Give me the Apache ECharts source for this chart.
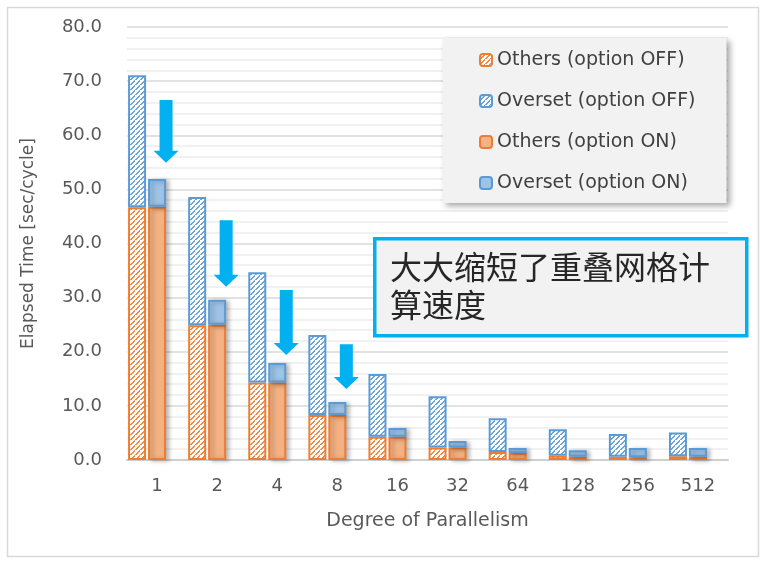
<!DOCTYPE html>
<html>
<head>
<meta charset="utf-8">
<script src="https://cdn.jsdelivr.net/npm/echarts@6/dist/echarts.min.js"></script>
<style>
	html, body { margin: 0; padding: 0; background: #fff; }
	#chart { width: 771px; height: 568px; }
</style>
</head>
<body>
<div id="chart"></div>
<script>
// degree of parallelism
var categories = ['1', '2', '4', '8', '16', '32', '64', '128', '256', '512'];
// elapsed time [sec/cycle], option OFF
var othersOff = [46.7, 24.9, 14.3, 8.3, 4.3, 2.3, 1.5, 0.8, 0.6, 0.7];
var oversetOff = [24.4, 23.7, 20.4, 14.8, 11.6, 9.5, 6.2, 4.9, 4.2, 4.4];
// option ON
var othersOn = [46.8, 25.0, 14.3, 8.3, 4.3, 2.3, 1.3, 0.6, 0.5, 0.6];
var oversetOn = [5.1, 4.6, 3.6, 2.4, 1.6, 1.2, 0.9, 1.2, 1.7, 1.6];
// arrows: [category index, start value, tip value]
var arrowData = [[0, 66.5, 54.9], [1, 44.3, 32.0], [2, 31.4, 19.4], [3, 21.4, 13.1]];
var legendNames = ['Others (option OFF)', 'Overset (option OFF)', 'Others (option ON)', 'Overset (option ON)'];
var noteText = '大大缩短了重叠网格计\n算速度';

var FONT = 'DejaVu Sans';

// white tile with a thin "/" stripe
function hatch(color) {
	var n = 5;
	var c = document.createElement('canvas');
	c.width = n;
	c.height = n;
	var ctx = c.getContext('2d');
	ctx.fillStyle = '#ffffff';
	ctx.fillRect(0, 0, n, n);
	ctx.fillStyle = color;
	for (var i = 0; i < n; i++) {
		ctx.fillRect(i, n - 1 - i, 1, 1);
		if (i < n - 1) ctx.fillRect(i + 1, n - 1 - i, 1, 1);
	}
	return { image: c, repeat: 'repeat' };
}

function barSeries(name, stack, data, fill, border, shadow) {
	var style = {
		color: fill,
		borderColor: border,
		borderWidth: 2
	};
	if (shadow) {
		style.shadowColor = 'rgba(0,0,0,0.25)';
		style.shadowBlur = 4;
		style.shadowOffsetX = 3;
		style.shadowOffsetY = 1;
	}
	return {
		name: name,
		type: 'bar',
		stack: stack,
		data: data,
		barWidth: 18,
		barGap: '11%',
		itemStyle: style,
		emphasis: { disabled: true }
	};
}

var myChart = echarts.init(document.getElementById('chart'));

var option = {
	backgroundColor: '#ffffff',
	animation: false,
	grid: {
		left: 127,
		right: 43,
		top: 27,
		bottom: 108
	},
	legend: {
		data: legendNames,
		orient: 'vertical',
		left: 443,
		top: 38,
		itemWidth: 12,
		itemHeight: 12,
		itemGap: 19,
		padding: [11, 31, 9, 36],
		backgroundColor: '#F2F2F2',
		shadowColor: 'rgba(0,0,0,0.35)',
		shadowBlur: 6,
		shadowOffsetX: 3,
		shadowOffsetY: 3,
		selectedMode: false,
		textStyle: {
			fontFamily: FONT,
			fontSize: 19,
			color: '#404040',
			lineHeight: 22
		}
	},
	xAxis: {
		type: 'category',
		data: categories,
		name: 'Degree of Parallelism',
		nameLocation: 'middle',
		nameGap: 52,
		nameTextStyle: {
			fontFamily: FONT,
			fontSize: 19,
			color: '#595959'
		},
		axisLine: {
			lineStyle: {
				color: '#CFCFCF',
				width: 2
			}
		},
		axisTick: { show: false },
		axisLabel: {
			margin: 17,
			fontFamily: FONT,
			fontSize: 18,
			color: '#595959'
		}
	},
	yAxis: {
		type: 'value',
		min: 0,
		max: 80,
		interval: 10,
		name: 'Elapsed Time [sec/cycle]',
		nameLocation: 'middle',
		nameGap: 90,
		nameTextStyle: {
			fontFamily: FONT,
			fontSize: 17,
			color: '#595959'
		},
		axisLine: { show: false },
		axisTick: { show: false },
		axisLabel: {
			margin: 25,
			fontFamily: FONT,
			fontSize: 18,
			color: '#595959',
			formatter: function(v) { return v.toFixed(1); }
		},
		splitLine: {
			lineStyle: { color: '#D9D9D9', width: 1.5 }
		},
		minorTick: { show: false, splitNumber: 5 },
		minorSplitLine: {
			show: true,
			lineStyle: { color: '#EDEDED', width: 1.5 }
		}
	},
	series: [
		barSeries(legendNames[0], 'off', othersOff, hatch('#F08A47'), '#ED7D31', false),
		barSeries(legendNames[1], 'off', oversetOff, hatch('#6CA5DA'), '#5B9BD5', false),
		barSeries(legendNames[2], 'on', othersOn, '#F4B183', '#ED7D31', true),
		barSeries(legendNames[3], 'on', oversetOn, '#9DC3E6', '#5B9BD5', true),
		// empty third slot, keeps each pair left of the category centre like the original
		{
			name: 'pad',
			type: 'bar',
			stack: 'pad',
			data: [],
			barWidth: 18,
			barGap: '11%',
			silent: true
		},
		{
			name: 'arrows',
			type: 'custom',
			silent: true,
			z: 5,
			encode: { x: 0, y: [1, 2] },
			data: arrowData,
			renderItem: function(params, api) {
				var start = api.coord([api.value(0), api.value(1)]);
				var tip = api.coord([api.value(0), api.value(2)]);
				var x = start[0] + 9;
				var neck = tip[1] - 12;
				return {
					type: 'polygon',
					shape: {
						points: [
							[x - 6.5, start[1]], [x + 6.5, start[1]], [x + 6.5, neck],
							[x + 12.5, neck], [x, tip[1]], [x - 12.5, neck], [x - 6.5, neck]
						]
					},
					style: { fill: '#00B0F0' }
				};
			}
		}
	],
	graphic: [
		{
			type: 'rect',
			left: 5,
			top: 5,
			silent: true,
			z: -10,
			shape: { width: 751, height: 549 },
			style: { fill: 'none', stroke: '#D9D9D9', lineWidth: 1.5 }
		},
		{
			type: 'rect',
			left: 373,
			top: 237,
			z: 100,
			shape: { width: 372, height: 97 },
			style: { fill: '#F2F2F2', stroke: '#00B0F0', lineWidth: 3.5 }
		},
		{
			type: 'text',
			left: 390,
			top: 248,
			z: 101,
			style: {
				text: noteText,
				font: 'normal 32px "Noto Sans CJK SC"',
				lineHeight: 38,
				fill: '#262626'
			}
		}
	]
};

myChart.setOption(option);
</script>
</body>
</html>
